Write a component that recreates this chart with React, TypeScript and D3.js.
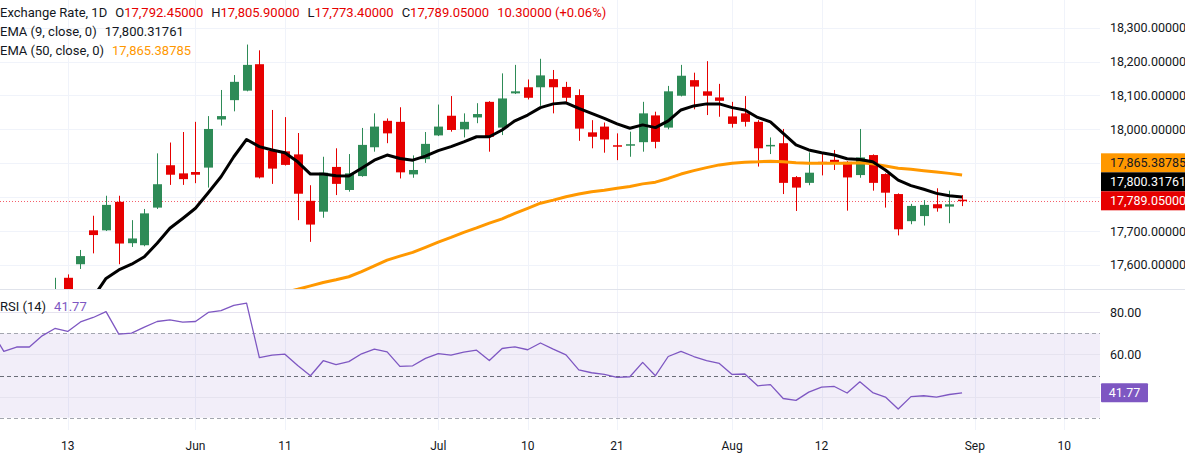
import * as React from 'react'
import * as d3 from 'd3'

// daily bars, oldest first; the first six sit left of the "13" tick
const opens = [
  17380, 17420, 17400, 17430, 17432, 17490,
  17562, 17602, 17702, 17702, 17786, 17664, 17658, 17769, 17894, 17870,
  17874, 17887, 18029, 18086, 18114, 18192, 17936, 17935, 17926, 17789,
  17757, 17889, 17821, 17862, 17947, 18025, 18022, 17867, 17912, 17982,
  18040, 18000, 18035, 18081, 18005, 18106, 18124, 18124, 18148, 18125,
  18101, 17991, 18008, 17953, 17952, 17962, 18041, 18005, 18099, 18145,
  18112, 18094, 18038, 18047, 18022, 17950, 17959, 17859, 17842, 17904,
  17910, 17904, 17865, 17924, 17868, 17809, 17729, 17744, 17779, 17772,
  17792.45,
]
const highs = [
  17440, 17450, 17445, 17450, 17500, 17562,
  17572, 17644, 17745, 17804, 17804, 17732, 17765, 17929, 17961, 17992,
  18022, 18039, 18116, 18160, 18250, 18233, 18057, 18036, 17989, 17835,
  17919, 17944, 17927, 18004, 18047, 18032, 18065, 17923, 17992, 18073,
  18098, 18047, 18077, 18083, 18165, 18190, 18147, 18208, 18175, 18140,
  18118, 18027, 18020, 17988, 17993, 18081, 18052, 18128, 18190, 18167,
  18201, 18134, 18081, 18098, 18027, 17976, 18001, 17862, 17932, 17929,
  17939, 17906, 18001, 17926, 17870, 17811, 17780, 17791, 17826, 17819,
  17805.9,
]
const lows = [
  17360, 17385, 17390, 17410, 17425, 17470,
  17495, 17588, 17634, 17700, 17602, 17653, 17655, 17765, 17836, 17836,
  17841, 17828, 18011, 18053, 18112, 17855, 17839, 17893, 17732, 17668,
  17739, 17806, 17816, 17860, 17934, 17959, 17855, 17857, 17901, 17980,
  17993, 17976, 18018, 17934, 17983, 18104, 18088, 18069, 18047, 18081,
  17966, 17944, 17931, 17909, 17919, 17934, 17944, 18000, 18097, 18059,
  18042, 18037, 18005, 18008, 17890, 17927, 17809, 17759, 17835, 17864,
  17880, 17760, 17857, 17819, 17769, 17687, 17720, 17716, 17757, 17723,
  17773.4,
]
const closes = [
  17420, 17400, 17430, 17432, 17490, 17525,
  17510, 17626, 17688, 17777, 17663, 17678, 17752, 17838, 17866, 17853,
  17866, 18001, 18039, 18140, 18190, 17858, 17884, 17895, 17810, 17719,
  17872, 17839, 17870, 17954, 18008, 17988, 17873, 17880, 17957, 18008,
  17998, 18022, 18045, 17978, 18091, 18112, 18093, 18159, 18124, 18093,
  18002, 17978, 17970, 17949, 17956, 18047, 17963, 18112, 18158, 18126,
  18099, 18084, 18016, 18022, 17944, 17954, 17842, 17828, 17872, 17899,
  17901, 17858, 17917, 17842, 17813, 17705, 17774, 17777, 17767, 17778.75,
  17789.05,
]
const ema9 = [
  17300, 17320, 17340, 17358, 17378, 17400,
  17422, 17460, 17505, 17560, 17585, 17602, 17624, 17664, 17708, 17737,
  17767, 17813, 17860, 17919, 17970, 17949, 17939, 17931, 17904, 17868,
  17868, 17863, 17862, 17885, 17909, 17924, 17914, 17909, 17921, 17937,
  17949, 17963, 17978, 17978, 17998, 18025, 18042, 18064, 18075, 18078,
  18062, 18047, 18032, 18016, 18003, 18013, 18005, 18025, 18057, 18069,
  18075, 18075, 18064, 18057, 18035, 18022, 17988, 17954, 17939, 17931,
  17924, 17913, 17911, 17904, 17880, 17850, 17834, 17823, 17811, 17804,
  17800.31761,
]
const ema50 = [
  17335, 17340, 17345, 17350, 17356, 17363,
  17370, 17378, 17386, 17395, 17403, 17410, 17418, 17427, 17437, 17446,
  17455, 17464, 17474, 17484, 17495, 17504, 17511, 17519, 17528, 17538,
  17548, 17556, 17565, 17580, 17597, 17614, 17626, 17637, 17652, 17667,
  17681, 17696, 17709, 17723, 17736, 17752, 17767, 17782, 17791, 17801,
  17809, 17816, 17820, 17826, 17831, 17839, 17844, 17855, 17868, 17878,
  17887, 17895, 17900, 17903, 17904, 17906, 17904, 17901, 17900, 17900,
  17900, 17900, 17901, 17898, 17892, 17885, 17882, 17878, 17874, 17870,
  17865.38785,
]
const rsi14 = [
  71.7, 61.4, 63.5, 63.5, 68.8, 72.3,
  70.9, 75.4, 77.5, 80.3, 69.6, 70.1, 72.9, 75.6, 76.4, 75.3,
  75.6, 79.9, 80.7, 83.2, 84.3, 58.5, 59.7, 60.1, 54.7, 49.9,
  57.0, 55.2, 56.6, 60.3, 62.5, 61.2, 54.3, 54.6, 58.1, 60.4,
  59.7, 61.1, 62.0, 57.1, 62.8, 63.6, 62.2, 65.4, 62.5, 59.8,
  52.7, 51.3, 50.5, 49.1, 49.4, 56.2, 49.9, 59.0, 61.4, 59.0,
  57.1, 55.7, 50.5, 50.7, 45.1, 45.7, 39.1, 38.2, 42.1, 44.5,
  44.8, 41.7, 47.0, 41.9, 39.8, 34.1, 40.0, 40.4, 39.8, 41.0,
  41.77,
]

// time axis: bar number of each labelled day (future days continue the count)
const tickBars = [6, 16, 23, 35, 42, 49, 58, 65, 77, 84]
const tickLabels = ['13', 'Jun', '11', 'Jul', '10', '21', 'Aug', '12', 'Sep', '10']
const priceTicks = [17500, 17600, 17700, 17800, 17900, 18000, 18100, 18200, 18300]
const rsiTicks = [40, 60, 80]

const WIDTH = 1185
const HEIGHT = 458
const PLOT_RIGHT = 1100
const PRICE_BOTTOM = 289
const RSI_TOP = 290
const RSI_BOTTOM = 430
const AXIS_X = 1110

const FONT = 'Roboto, "Liberation Sans", Arial, sans-serif'
const TEXT = '#131722'
const GREEN = '#2e8b57'
const RED = '#e60000'
const ORANGE = '#ff9800'
const PURPLE = '#7e57c2'
const GRID = '#f0f3fa'

const fmtPrice = d3.format(',.5f')
const fmtRsi = d3.format('.2f')

const Chart: React.FC = () => {
  const ref = React.useRef<SVGSVGElement>(null)

  React.useEffect(() => {
    const svg = d3.select(ref.current)
    svg.selectAll('*').remove()

    const x = d3.scaleLinear().domain([6, 84]).range([67.7, 1064.3])
    const y = d3.scaleLinear().domain([17600, 18300]).range([264.9, 27.6])
    const yr = d3.scaleLinear().domain([30, 70]).range([417.7, 333.3])
    const bars = d3.range(closes.length)
    const last = closes.length - 1

    svg.append('rect').attr('width', WIDTH).attr('height', HEIGHT).attr('fill', '#fff')

    const defs = svg.append('defs')
    defs.append('clipPath').attr('id', 'clip-price')
      .append('rect').attr('x', 0).attr('y', 0)
      .attr('width', PLOT_RIGHT).attr('height', PRICE_BOTTOM)
    defs.append('clipPath').attr('id', 'clip-rsi')
      .append('rect').attr('x', 0).attr('y', RSI_TOP)
      .attr('width', PLOT_RIGHT).attr('height', RSI_BOTTOM - RSI_TOP)

    // grid
    const grid = svg.append('g').attr('stroke', GRID).attr('stroke-width', 1)
    grid.selectAll('line.v').data(tickBars).join('line')
      .attr('class', 'v')
      .attr('x1', d => Math.round(x(d)) + 0.5).attr('x2', d => Math.round(x(d)) + 0.5)
      .attr('y1', 0).attr('y2', RSI_BOTTOM)
    grid.selectAll('line.h').data(priceTicks.filter(p => y(p) < PRICE_BOTTOM)).join('line')
      .attr('class', 'h')
      .attr('x1', 0).attr('x2', PLOT_RIGHT)
      .attr('y1', d => Math.round(y(d)) + 0.5).attr('y2', d => Math.round(y(d)) + 0.5)

    // ---- RSI pane ----
    svg.append('rect')
      .attr('x', 0).attr('width', PLOT_RIGHT)
      .attr('y', yr(70)).attr('height', yr(30) - yr(70))
      .attr('fill', PURPLE).attr('fill-opacity', 0.1)

    svg.append('g').selectAll('line').data(rsiTicks).join('line')
      .attr('x1', 0).attr('x2', PLOT_RIGHT)
      .attr('y1', d => Math.round(yr(d)) + 0.5).attr('y2', d => Math.round(yr(d)) + 0.5)
      .attr('stroke', '#e6e3ef')

    svg.append('g').selectAll('line').data([70, 50, 30]).join('line')
      .attr('x1', 0).attr('x2', PLOT_RIGHT)
      .attr('y1', d => Math.round(yr(d)) + 0.5).attr('y2', d => Math.round(yr(d)) + 0.5)
      .attr('stroke', d => (d === 50 ? '#6a6d78' : '#a3a6af'))
      .attr('stroke-dasharray', '4,3')

    const rsiLine = d3.line<number>().x(i => x(i)).y(i => yr(rsi14[i]))
    svg.append('path')
      .attr('clip-path', 'url(#clip-rsi)')
      .attr('d', rsiLine(bars))
      .attr('fill', 'none')
      .attr('stroke', PURPLE)
      .attr('stroke-width', 1.3)
      .attr('stroke-linejoin', 'round')

    // pane separator
    svg.append('line')
      .attr('x1', 0).attr('x2', WIDTH)
      .attr('y1', PRICE_BOTTOM + 0.5).attr('y2', PRICE_BOTTOM + 0.5)
      .attr('stroke', '#e0e3eb')

    // ---- price pane ----
    const price = svg.append('g').attr('clip-path', 'url(#clip-price)')

    // last price line, under the candles
    const lastY = Math.round(y(closes[last])) + 0.5
    price.append('line')
      .attr('x1', 0).attr('x2', PLOT_RIGHT)
      .attr('y1', lastY).attr('y2', lastY)
      .attr('stroke', '#f23645').attr('stroke-opacity', 0.8)
      .attr('stroke-dasharray', '1,2')

    const candles = price.selectAll('g.c').data(bars).join('g').attr('class', 'c')
    const colour = (i: number) => (closes[i] >= opens[i] ? GREEN : RED)
    candles.append('line')
      .attr('x1', i => Math.round(x(i)) + 0.5).attr('x2', i => Math.round(x(i)) + 0.5)
      .attr('y1', i => y(highs[i])).attr('y2', i => y(lows[i]))
      .attr('stroke', colour)
    candles.append('rect')
      .attr('x', i => Math.round(x(i)) - 4)
      .attr('width', 9)
      .attr('y', i => y(Math.max(opens[i], closes[i])))
      .attr('height', i => Math.max(1.5, Math.abs(y(opens[i]) - y(closes[i]))))
      .attr('fill', colour)

    const lineOf = (vals: number[]) => d3.line<number>().x(i => x(i)).y(i => y(vals[i]))
    price.append('path')
      .attr('d', lineOf(ema50)(bars))
      .attr('fill', 'none').attr('stroke', ORANGE).attr('stroke-width', 3)
      .attr('stroke-linejoin', 'round')
    price.append('path')
      .attr('d', lineOf(ema9)(bars))
      .attr('fill', 'none').attr('stroke', '#000').attr('stroke-width', 3)
      .attr('stroke-linejoin', 'round')

    // ---- right price scale ----
    const boxH = 19
    const redTop = y(closes[last]) - boxH / 2
    const boxes = [
      { top: redTop - 2 * boxH, fill: ORANGE, color: TEXT, value: ema50[last] },
      { top: redTop - boxH, fill: '#000', color: '#fff', value: ema9[last] },
      { top: redTop, fill: RED, color: '#fff', value: closes[last] },
    ]
    const boxMin = boxes[0].top
    const boxMax = redTop + boxH

    svg.append('g').selectAll('text')
      .data(priceTicks.filter(p => y(p) < PRICE_BOTTOM - 8 && (y(p) < boxMin - 6 || y(p) > boxMax + 6)))
      .join('text')
      .attr('x', AXIS_X).attr('y', d => y(d) + 4.5)
      .attr('font-family', FONT).attr('font-size', 12.5).attr('fill', TEXT)
      .text(d => fmtPrice(d))

    const bx = svg.append('g').selectAll('g').data(boxes).join('g')
    bx.append('rect')
      .attr('x', PLOT_RIGHT + 1).attr('y', d => d.top)
      .attr('width', WIDTH - PLOT_RIGHT).attr('height', boxH)
      .attr('fill', d => d.fill)
    bx.append('text')
      .attr('x', AXIS_X).attr('y', d => d.top + boxH / 2 + 4.5)
      .attr('font-family', FONT).attr('font-size', 12.5).attr('fill', d => d.color)
      .text(d => fmtPrice(d.value))

    // ---- right RSI scale ----
    const rsiBoxY = yr(rsi14[last]) - boxH / 2
    svg.append('g').selectAll('text')
      .data(rsiTicks.filter(v => Math.abs(yr(v) - yr(rsi14[last])) > 14))
      .join('text')
      .attr('x', AXIS_X).attr('y', d => yr(d) + 4.5)
      .attr('font-family', FONT).attr('font-size', 12.5).attr('fill', TEXT)
      .text(d => fmtRsi(d))
    svg.append('rect')
      .attr('x', PLOT_RIGHT + 1).attr('y', rsiBoxY)
      .attr('width', 47).attr('height', boxH).attr('rx', 1)
      .attr('fill', PURPLE)
    svg.append('text')
      .attr('x', PLOT_RIGHT + 1 + 23.5).attr('y', rsiBoxY + boxH / 2 + 4.5)
      .attr('text-anchor', 'middle')
      .attr('font-family', FONT).attr('font-size', 12.5).attr('fill', '#fff')
      .text(fmtRsi(rsi14[last]))

    // ---- time axis ----
    svg.append('g').selectAll('text').data(tickBars).join('text')
      .attr('x', d => x(d)).attr('y', 450)
      .attr('text-anchor', 'middle')
      .attr('font-family', FONT).attr('font-size', 12).attr('fill', TEXT)
      .text((d, i) => tickLabels[i])

    // ---- legends ----
    const legend = svg.append('g').attr('font-family', FONT).attr('font-size', 13)
    const change = closes[last] - closes[last - 1]
    const l1 = legend.append('text').attr('x', 0).attr('y', 17).attr('fill', TEXT)
    l1.append('tspan').text('Exchange Rate, 1D')
    const ohlc: [string, number][] = [
      ['O', opens[last]], ['H', highs[last]], ['L', lows[last]], ['C', closes[last]],
    ]
    ohlc.forEach(([k, v]) => {
      l1.append('tspan').attr('dx', 8).text(k)
      l1.append('tspan').attr('fill', RED).text(fmtPrice(v))
    })
    l1.append('tspan').attr('dx', 8).attr('fill', RED)
      .text(`${d3.format('.5f')(change)} (+${d3.format('.2f')((change / closes[last - 1]) * 100)}%)`)

    const l2 = legend.append('text').attr('x', 0).attr('y', 36).attr('fill', TEXT)
    l2.append('tspan').text('EMA (9, close, 0)')
    l2.append('tspan').attr('dx', 8).text(fmtPrice(ema9[last]))

    const l3 = legend.append('text').attr('x', 0).attr('y', 54.5).attr('fill', TEXT)
    l3.append('tspan').text('EMA (50, close, 0)')
    l3.append('tspan').attr('dx', 8).attr('fill', ORANGE).text(fmtPrice(ema50[last]))

    const l4 = legend.append('text').attr('x', 0).attr('y', 310.5).attr('fill', TEXT)
    l4.append('tspan').text('RSI (14)')
    l4.append('tspan').attr('dx', 8).attr('fill', PURPLE).text(fmtRsi(rsi14[last]))
  }, [])

  return (
    <svg
      ref={ref}
      width={WIDTH}
      height={HEIGHT}
      style={{ position: 'absolute', left: 0, top: 0, display: 'block' }}
    />
  )
}

const App: React.FC = () => <Chart />

export default App
